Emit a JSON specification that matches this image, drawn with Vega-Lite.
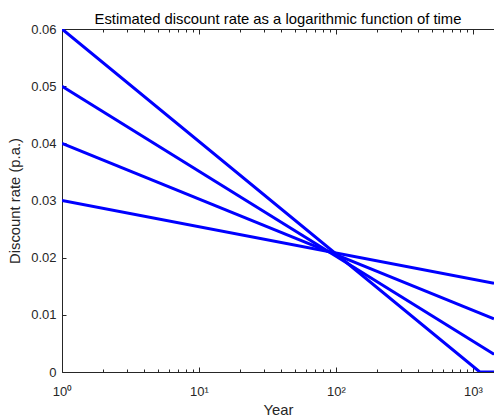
{
  "$schema": "https://vega.github.io/schema/vega-lite/v6.json",
  "autosize": "none",
  "padding": {"left": 62, "top": 29, "right": 0, "bottom": 44},
  "width": 432,
  "height": 343,
  "background": "white",
  "title": {"text": "Estimated discount rate as a logarithmic function of time", "font": "Liberation Sans", "fontSize": 14.8, "fontWeight": "normal", "color": "#000000", "offset": -4, "anchor": "middle"},
  "config": {
    "view": {"stroke": null},
    "axis": {"labelFont": "Liberation Sans", "titleFont": "Liberation Sans", "labelFontSize": 13, "titleFontSize": 14.8, "titleFontWeight": "normal", "labelColor": "#262626", "titleColor": "#262626", "domainColor": "#262626", "tickColor": "#262626", "grid": false}
  },
  "data": {"values": [
    {"r0": "0.06", "t": 1, "r": 0.06},
    {"r0": "0.06", "t": 1122, "r": 0},
    {"r0": "0.06", "t": 1424, "r": 0},
    {"r0": "0.05", "t": 1, "r": 0.05},
    {"r0": "0.05", "t": 1424, "r": 0.0031},
    {"r0": "0.04", "t": 1, "r": 0.04},
    {"r0": "0.04", "t": 1424, "r": 0.0093},
    {"r0": "0.03", "t": 1, "r": 0.03},
    {"r0": "0.03", "t": 1424, "r": 0.0155}
  ]},
  "layer": [
    {
      "mark": {"type": "line", "color": "#0000ff", "strokeWidth": 3, "clip": true},
      "encoding": {
        "x": {"field": "t", "type": "quantitative", "scale": {"type": "log", "domain": [1, 1424], "nice": false},
          "axis": {"orient": "bottom", "title": "Year", "titlePadding": 2,
            "values": [1,2,3,4,5,6,7,8,9,10,20,30,40,50,60,70,80,90,100,200,300,400,500,600,700,800,900,1000],
            "labelExpr": "datum.value==1?'10⁰':datum.value==10?'10¹':datum.value==100?'10²':datum.value==1000?'10³':''",
            "tickSize": {"condition": {"test": "datum.value==1||datum.value==10||datum.value==100||datum.value==1000", "value": -5}, "value": -3},
            "labelPadding": 18, "labelFlush": false, "labelOverlap": false}},
        "y": {"field": "r", "type": "quantitative", "scale": {"domain": [0, 0.06], "nice": false},
          "axis": {"orient": "left", "title": "Discount rate (p.a.)", "values": [0,0.01,0.02,0.03,0.04,0.05,0.06], "format": ".2~f", "tickSize": -4, "labelPadding": 10, "titlePadding": 8}},
        "detail": {"field": "r0", "type": "nominal"}
      }
    },
    {
      "mark": {"type": "line", "opacity": 0},
      "encoding": {
        "x": {"field": "t", "type": "quantitative",
          "axis": {"orient": "top", "title": null, "labels": false,
            "values": [1,2,3,4,5,6,7,8,9,10,20,30,40,50,60,70,80,90,100,200,300,400,500,600,700,800,900,1000],
            "tickSize": {"condition": {"test": "datum.value==1||datum.value==10||datum.value==100||datum.value==1000", "value": -5}, "value": -3}}},
        "y": {"field": "r", "type": "quantitative"},
        "detail": {"field": "r0", "type": "nominal"}
      }
    }
  ]
}
